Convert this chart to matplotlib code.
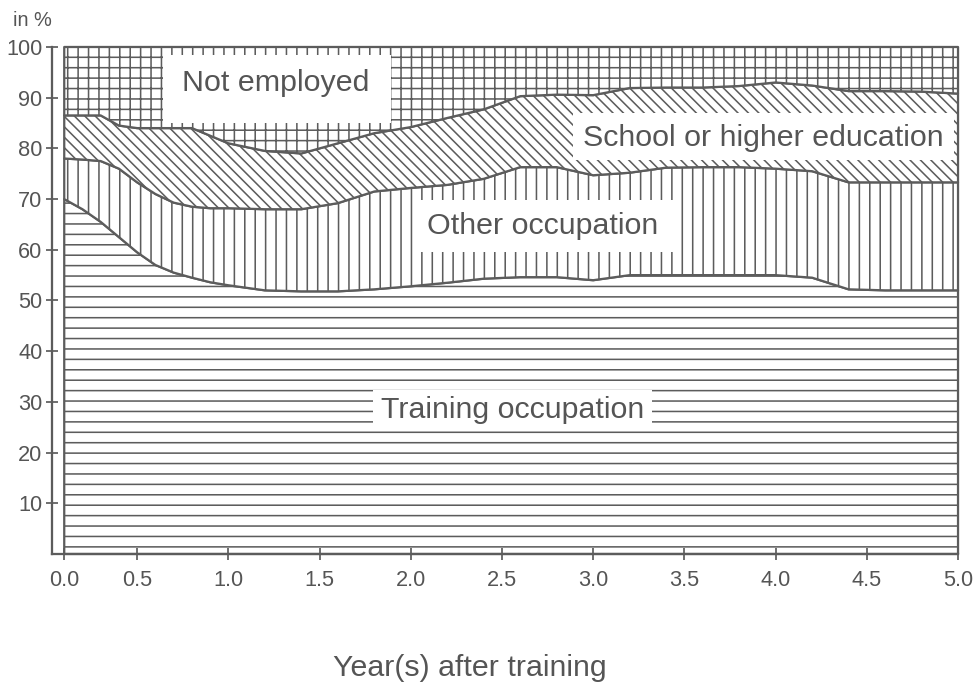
import matplotlib.pyplot as plt
from matplotlib.patches import Rectangle

# years after training (first point is where the shaded area starts)
years = [0.1, 0.2, 0.3, 0.4, 0.5, 0.6, 0.7, 0.8, 0.9, 1.0, 1.2, 1.4, 1.6, 1.8, 2.0,
         2.2, 2.4, 2.6, 2.8, 3.0, 3.2, 3.4, 3.6, 3.8, 4.0, 4.2, 4.4, 4.6, 4.8, 5.0]

# shares in %
training = [70, 68, 65.5, 62.5, 59.5, 57, 55.5, 54.5, 53.6, 53, 52, 51.8, 51.8, 52.2, 52.8,
            53.5, 54.3, 54.6, 54.6, 54, 55, 55, 55, 55, 55, 54.5, 52.2, 52, 52, 52]
other = [8, 9.8, 12, 13.5, 13.8, 14, 13.8, 14, 14.6, 15.2, 16, 16.2, 17.4, 19.3, 19.4,
         19.3, 19.7, 21.7, 21.7, 20.7, 20.2, 21.2, 21.3, 21.3, 21, 21, 21.1, 21.3, 21.3, 21.3]
school = [8.5, 8.7, 9, 8.5, 10.7, 13, 14.7, 15.5, 14.3, 12.8, 11.5, 11, 11.8, 11.5, 12,
          13.2, 13.7, 14, 14.3, 15.8, 16.7, 15.8, 15.7, 16, 17, 16.9, 18, 18, 17.9, 17.5]
not_employed = [13.5, 13.5, 13.5, 15.5, 16, 16, 16, 16, 17.5, 19, 20.5, 21, 19, 17, 15.8,
                14, 12.3, 9.7, 9.4, 9.5, 8.1, 8, 8, 7.7, 7, 7.6, 8.7, 8.7, 8.8, 9.2]

x_ticks = [0.1, 0.5, 1.0, 1.5, 2.0, 2.5, 3.0, 3.5, 4.0, 4.5, 5.0]
x_tick_labels = ["0.0", "0.5", "1.0", "1.5", "2.0", "2.5", "3.0", "3.5", "4.0", "4.5", "5.0"]
y_ticks = [10, 20, 30, 40, 50, 60, 70, 80, 90, 100]

GRAY = "#5c5c5c"
TEXT_GRAY = "#555555"

plt.rcParams["font.family"] = ["Liberation Sans", "DejaVu Sans"]
plt.rcParams["hatch.linewidth"] = 0.9

fig = plt.figure(figsize=(974 / 125, 691 / 125), dpi=125)
ax = fig.add_axes([0.0534, 0.1983, 0.9302, 0.7337])

layers = [training, other, school, not_employed]
hatches = ["--", "||", "\\\\\\\\", "++"]
lower = [0.0] * len(years)
for values, hatch in zip(layers, hatches):
    upper = [a + b for a, b in zip(lower, values)]
    ax.fill_between(years, lower, upper, facecolor="white", edgecolor=GRAY,
                    hatch=hatch, linewidth=1.3, clip_on=False)
    lower = upper

# white label boxes (x0, y0, width, height) in data units
labels = [
    ("Not employed", (0.64, 85.0, 1.25, 13.4), (1.26, 92.9)),
    ("School or higher education", (2.89, 77.7, 2.09, 9.3), (3.93, 82.1)),
    ("Other occupation", (2.04, 59.6, 1.41, 10.2), (2.72, 64.7)),
    ("Training occupation", (1.79, 24.3, 1.53, 8.0), (2.56, 28.4)),
]
for text, (bx, by, bw, bh), (tx, ty) in labels:
    ax.add_patch(Rectangle((bx, by), bw, bh, facecolor="white", edgecolor="none", zorder=3))
    ax.text(tx, ty, text, ha="center", va="center", fontsize=17.5, color=TEXT_GRAY, zorder=4)

ax.set_xlim(0.033, 5.0)
ax.set_ylim(0, 100)
ax.set_xticks(x_ticks)
ax.set_xticklabels(x_tick_labels)
ax.set_yticks(y_ticks)
ax.tick_params(axis="both", direction="inout", length=7, width=1.0, color=GRAY,
               labelcolor=TEXT_GRAY, labelsize=12.5)
ax.tick_params(axis="x", pad=6)
ax.tick_params(axis="y", pad=2)
for side in ["top", "right"]:
    ax.spines[side].set_visible(False)
for side in ["left", "bottom"]:
    ax.spines[side].set_color(GRAY)
    ax.spines[side].set_linewidth(1.3)

fig.text(32 / 974, 1 - 20 / 691, "in %", ha="center", va="center", fontsize=11.5, color=TEXT_GRAY)
fig.text(470 / 974, 1 - 668 / 691, "Year(s) after training", ha="center", va="center",
         fontsize=17.5, color=TEXT_GRAY)

fig.savefig("out.png", dpi=125, facecolor="white")
